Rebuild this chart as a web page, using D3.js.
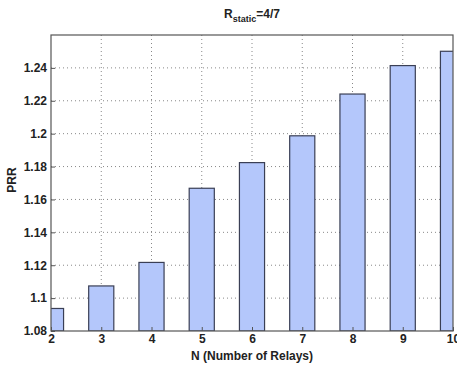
<!DOCTYPE html>
<html>
<head>
<meta charset="utf-8">
<script src="https://cdn.jsdelivr.net/npm/d3@7"></script>
<style>
  body { margin: 0; background: #fff; }
  text { font-family: "Liberation Sans", Arial, sans-serif; font-weight: bold; fill: #222; }
</style>
</head>
<body>
<svg id="chart"></svg>
<script>
// data
const relays = [2, 3, 4, 5, 6, 7, 8, 9, 10];
const prr = [1.0937, 1.1074, 1.1217, 1.1668, 1.1824, 1.1987, 1.2241, 1.2414, 1.2501];
const yTicks = [1.08, 1.1, 1.12, 1.14, 1.16, 1.18, 1.2, 1.22, 1.24];
const yTickLabels = ["1.08", "1.1", "1.12", "1.14", "1.16", "1.18", "1.2", "1.22", "1.24"];

const W = 457, H = 365;
const margin = { top: 35, right: 4, bottom: 34, left: 51 };
const width = W - margin.left - margin.right;
const height = H - margin.top - margin.bottom;

const svg = d3.select('#chart').attr('width', W).attr('height', H);

svg.append('defs').append('clipPath').attr('id', 'plotclip')
  .append('rect').attr('width', width).attr('height', height);

const chart = svg.append('g')
  .attr('transform', `translate(${margin.left},${margin.top})`);

const xScale = d3.scaleLinear().domain([2, 10]).range([0, width]);
const yScale = d3.scaleLinear().domain([1.08, 1.26]).range([height, 0]);
const barW = (xScale(3) - xScale(2)) * 0.5;

// grid lines (dotted)
chart.append('g').selectAll('line.gx')
  .data(relays.slice(1, -1))
  .join('line')
  .attr('x1', d => xScale(d)).attr('x2', d => xScale(d))
  .attr('y1', 0).attr('y2', height)
  .attr('stroke', '#888').attr('stroke-width', 1)
  .attr('stroke-dasharray', '1,3');

chart.append('g').selectAll('line.gy')
  .data(yTicks.slice(1))
  .join('line')
  .attr('x1', 0).attr('x2', width)
  .attr('y1', d => yScale(d)).attr('y2', d => yScale(d))
  .attr('stroke', '#888').attr('stroke-width', 1)
  .attr('stroke-dasharray', '1,3');

// bars
chart.append('g').attr('clip-path', 'url(#plotclip)')
  .selectAll('rect')
  .data(relays.map((n, i) => ({ n: n, v: prr[i] })))
  .join('rect')
  .attr('x', d => xScale(d.n) - barW / 2)
  .attr('y', d => yScale(d.v))
  .attr('width', barW)
  .attr('height', d => height - yScale(d.v))
  .attr('fill', '#b4c7fb')
  .attr('stroke', '#3a3f55')
  .attr('stroke-width', 1.2);

// axis box
chart.append('rect')
  .attr('width', width).attr('height', height)
  .attr('fill', 'none').attr('stroke', '#555').attr('stroke-width', 1.2);

// axes
const xAxis = d3.axisBottom(xScale).tickValues(relays).tickFormat(d3.format('d'))
  .tickSize(-4).tickSizeOuter(0).tickPadding(4);
const yAxis = d3.axisLeft(yScale).tickValues(yTicks)
  .tickFormat((d, i) => yTickLabels[i]).tickSize(-4).tickSizeOuter(0).tickPadding(4);

const gx = chart.append('g').attr('transform', `translate(0,${height})`).call(xAxis);
const gy = chart.append('g').call(yAxis);
[gx, gy].forEach(g => {
  g.select('.domain').remove();
  g.selectAll('line').attr('stroke', '#555');
  g.selectAll('text').style('font-size', '12px').attr('fill', '#222');
});
gx.selectAll('text').attr('dy', '0.65em');

// title
const title = svg.append('text')
  .attr('x', 252).attr('y', 18)
  .attr('text-anchor', 'middle')
  .style('font-size', '12px');
title.append('tspan').text('R');
title.append('tspan').attr('dy', 4).style('font-size', '9px').text('static');
title.append('tspan').attr('dy', -4).text('=4/7');

// axis labels
svg.append('text')
  .attr('x', margin.left + width / 2).attr('y', 360)
  .attr('text-anchor', 'middle')
  .style('font-size', '12px')
  .text('N (Number of Relays)');

svg.append('text')
  .attr('transform', 'rotate(-90)')
  .attr('x', -180).attr('y', 16)
  .attr('text-anchor', 'middle')
  .style('font-size', '12px')
  .text('PRR');
</script>
</body>
</html>
